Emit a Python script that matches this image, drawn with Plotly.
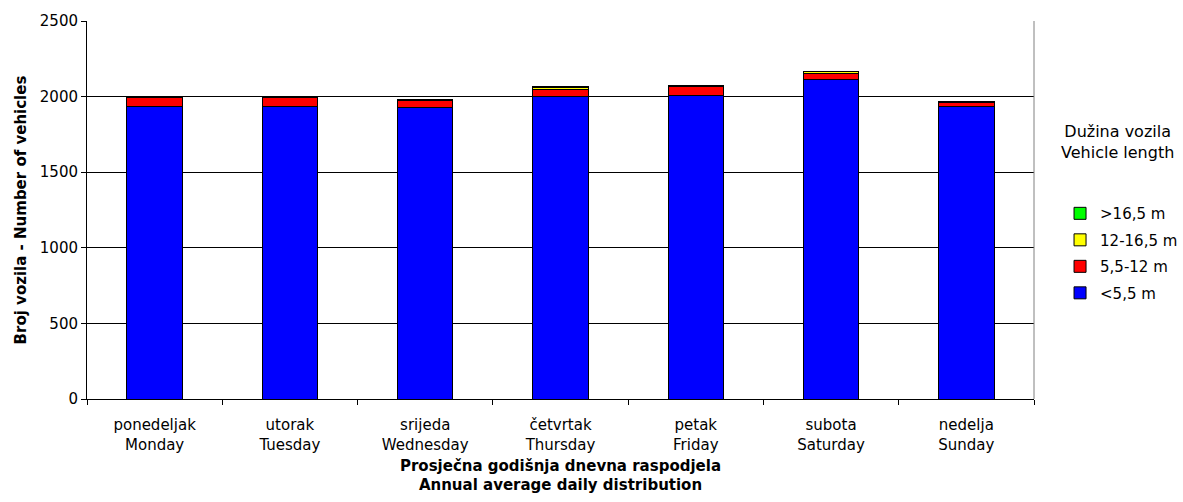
import plotly.graph_objects as go

days_hr = ["ponedeljak", "utorak", "srijeda", "četvrtak", "petak", "subota", "nedelja"]
days_en = ["Monday", "Tuesday", "Wednesday", "Thursday", "Friday", "Saturday", "Sunday"]
categories = [f"{a}<br>{b}" for a, b in zip(days_hr, days_en)]

len_lt_5_5 = [1935, 1935, 1926, 1998, 2009, 2115, 1935]
len_5_5_12 = [60, 60, 50, 48, 58, 38, 28]
len_12_16_5 = [5, 5, 3, 12, 3, 10, 3]
len_gt_16_5 = [2, 2, 2, 6, 2, 5, 2]

series = [
    ("<5,5 m", len_lt_5_5, "#0000FF"),
    ("5,5-12 m", len_5_5_12, "#FF0000"),
    ("12-16,5 m", len_12_16_5, "#FFFF00"),
    (">16,5 m", len_gt_16_5, "#00FF00"),
]

FONT = "DejaVu Sans"
FS = 15

fig = go.Figure()
n = len(series)
for i, (name, vals, col) in enumerate(series):
    fig.add_trace(go.Bar(
        x=categories, y=vals, name=name,
        marker=dict(color=col, line=dict(color="black", width=1)),
        legendgroup=f"g{i}", legendrank=n - i,
    ))

fig.update_layout(
    width=1183, height=502,
    barmode="stack", bargap=0.59,
    paper_bgcolor="white", plot_bgcolor="white",
    margin=dict(l=87, r=149, t=21, b=103, autoexpand=False),
    font=dict(family=FONT, size=FS, color="black"),
    showlegend=True,
    legend=dict(
        traceorder="grouped", tracegroupgap=4,
        x=1.0275, xanchor="left", y=0.386, yanchor="middle",
        font=dict(family=FONT, size=FS),
        itemwidth=30,
    ),
    annotations=[dict(
        text="Dužina vozila<br>Vehicle length",
        xref="paper", yref="paper", x=1.0877, y=0.681,
        xanchor="center", yanchor="middle", showarrow=False,
        font=dict(family=FONT, size=16), align="center",
    )],
)

fig.update_xaxes(
    showline=True, linecolor="black", linewidth=1,
    ticks="outside", tickcolor="black", ticklen=5,
    tickson="boundaries", ticklabelstandoff=12,
    title=dict(text="<b>Prosječna godišnja dnevna raspodjela<br>Annual average daily distribution</b>",
               font=dict(family=FONT, size=FS), standoff=7),
    tickfont=dict(family=FONT, size=FS),
)
fig.update_yaxes(
    range=[0, 2500], dtick=500,
    showline=True, linecolor="black", linewidth=1,
    ticks="outside", tickcolor="black", ticklen=5,
    showgrid=True, gridcolor="black", gridwidth=1,
    title=dict(text="<b>Broj vozila - Number of vehicles</b>", font=dict(family=FONT, size=FS), standoff=9),
    tickfont=dict(family=FONT, size=FS),
    zeroline=False,
)

# right border of plot area
fig.add_shape(type="line", xref="paper", yref="paper", x0=1, x1=1, y0=0, y1=1,
              line=dict(color="#808080", width=1))

fig.write_html(
    "out.html",
    config={"displayModeBar": False},
    post_script="document.body.style.margin='0';document.body.style.overflow='hidden';",
)
